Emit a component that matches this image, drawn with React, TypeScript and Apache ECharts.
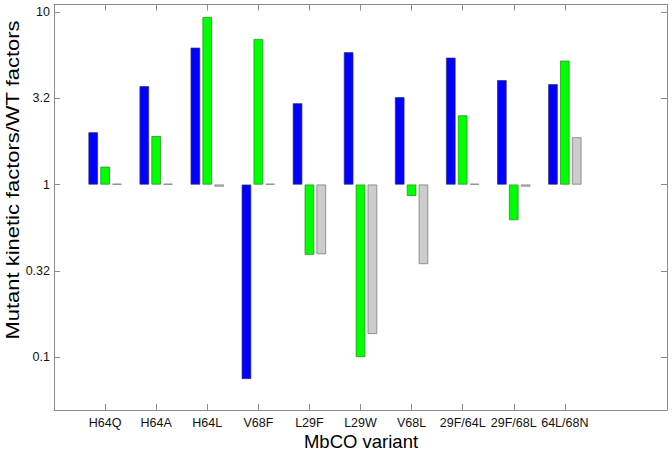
import React, { useEffect, useRef } from "react";
import * as echarts from "echarts";

const categories = ["H64Q", "H64A", "H64L", "V68F", "L29F", "L29W", "V68L", "29F/64L", "29F/68L", "64L/68N"];
const blueValues = [2.01, 3.72, 6.22, 0.0746, 2.96, 5.85, 3.21, 5.44, 4.03, 3.82];
const greenValues = [1.27, 1.91, 9.37, 6.98, 0.392, 0.1, 0.86, 2.52, 0.622, 5.23];
const grayValues = [1.01, 1.01, 0.974, 1.01, 0.395, 0.136, 0.346, 1.01, 0.974, 1.88];
const tickValues = [0.1, 0.3162, 1, 3.162, 10];
const tickLabels = ["0.1", "0.32", "1", "3.2", "10"];
const yMin = 0.0493;
const yMax = 11.07;

export default function App() {
  const ref = useRef<HTMLDivElement>(null);
  useEffect(() => {
    if (!ref.current) return;
    const chart = echarts.init(ref.current, null, { renderer: "svg" });
    const cats = ["", ...categories, "", ""];
    const pad = (arr: number[]) => ["-", ...arr.map((v) => Math.log10(v)), "-", "-"];
    const tickPos = tickValues.map((v) => Math.log10(v));
    const labelFor = (v: number) => {
      const i = tickPos.findIndex((p) => Math.abs(p - v) < 1e-6);
      return i >= 0 ? tickLabels[i] : "";
    };
    const axisColor = "#8c8c8c";
    const tickInterval = (index: number) => index >= 1 && index <= categories.length;
    const font = "Liberation Sans";
    const barStyle = (color: string, border: string) => ({
      type: "bar" as const,
      barWidth: 9.5,
      barGap: "25%",
      itemStyle: { color, borderColor: border, borderWidth: 0.7 },
    });
    chart.setOption({
      animation: false,
      backgroundColor: "#ffffff",
      grid: { left: 54, right: 5, top: 4.5, bottom: 42, containLabel: false },
      xAxis: [
        {
          type: "category",
          data: cats,
          boundaryGap: false,
          position: "bottom",
          axisLine: { onZero: false, lineStyle: { color: axisColor, width: 1 } },
          axisTick: { inside: true, length: 6, interval: tickInterval, lineStyle: { color: axisColor } },
          axisLabel: { interval: tickInterval, margin: 6, color: "#111", fontSize: 12.5, fontFamily: font },
          splitLine: { show: false },
        },
        {
          type: "category",
          data: cats,
          boundaryGap: false,
          position: "top",
          axisLine: { onZero: false, lineStyle: { color: axisColor, width: 1 } },
          axisTick: { inside: true, length: 6, interval: tickInterval, lineStyle: { color: axisColor } },
          axisLabel: { show: false },
          splitLine: { show: false },
        },
      ],
      yAxis: [
        {
          type: "value",
          min: Math.log10(yMin),
          max: Math.log10(yMax),
          position: "left",
          axisLine: { show: true, onZero: false, lineStyle: { color: axisColor, width: 1 } },
          axisTick: { show: true, inside: true, length: 6, customValues: tickPos, lineStyle: { color: axisColor } },
          axisLabel: {
            customValues: tickPos,
            formatter: (v: number) => labelFor(v),
            margin: 4,
            color: "#111",
            fontSize: 12.5,
            fontFamily: font,
          },
          splitLine: { show: false },
        },
        {
          type: "value",
          min: Math.log10(yMin),
          max: Math.log10(yMax),
          position: "right",
          axisLine: { show: true, onZero: false, lineStyle: { color: axisColor, width: 1 } },
          axisTick: { show: true, inside: true, length: 6, customValues: tickPos, lineStyle: { color: axisColor } },
          axisLabel: { show: false },
          splitLine: { show: false },
        },
      ],
      series: [
        { ...barStyle("#0000ff", "#30306a"), name: "blue", data: pad(blueValues) },
        { ...barStyle("#00ff00", "#1f8a1f"), name: "green", data: pad(greenValues) },
        { ...barStyle("#cccccc", "#707070"), name: "gray", data: pad(grayValues) },
      ],
      graphic: [
        {
          type: "text",
          x: 12.5,
          y: 180,
          rotation: Math.PI / 2,
          scaleX: 1.155,
          style: {
            text: "Mutant kinetic factors/WT factors",
            font: `19px "${font}"`,
            align: "center",
            verticalAlign: "middle",
            fill: "#000",
          },
        },
        {
          type: "text",
          x: 361,
          y: 441,
          style: {
            text: "MbCO variant",
            font: `18.5px "${font}"`,
            align: "center",
            verticalAlign: "middle",
            fill: "#000",
          },
        },
      ],
    });
    return () => chart.dispose();
  }, []);
  return <div ref={ref} style={{ position: "fixed", left: 0, top: 0, width: 672, height: 452 }} />;
}
